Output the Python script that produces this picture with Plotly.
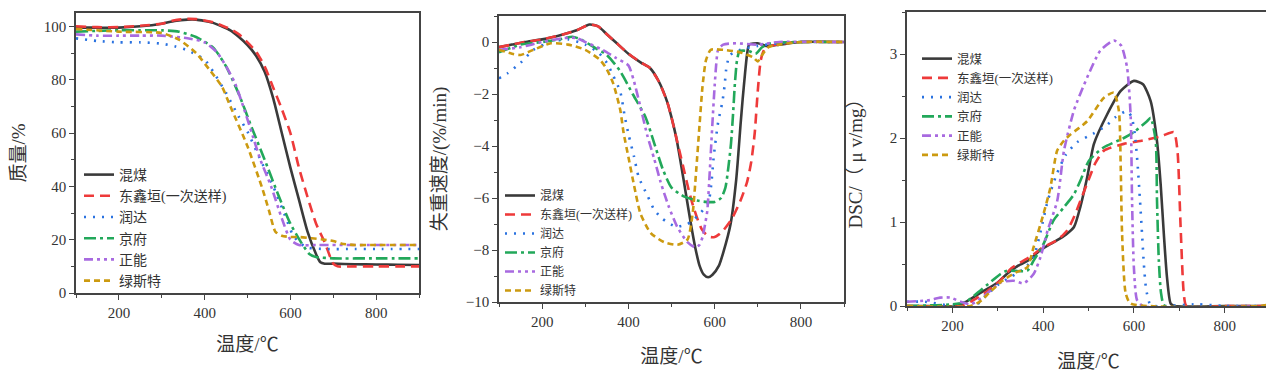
import plotly.graph_objects as go

# Browser body has an 8px margin: the figure is drawn offset by (8, 8)
OFF = 8
W, H = 1274 - OFF, 372 - OFF
NAMES = ["混煤", "东鑫垣(一次送样)", "润达", "京府", "正能", "绿斯特"]
COLORS = ["#3a3a3a", "#ee3a3a", "#2a72e0", "#22a85a", "#a86ae0", "#cc9a10"]
DASHES = ["solid", "10px,6px", "2px,7px", "12px,4px,3px,4px", "9px,4px,3px,4px,3px,4px", "6px,4px"]

# ---------------- TG (质量/%) ----------------
tg_black_T = [100,150,200,250,300,330,360,380,400,420,440,460,480,500,520,540,560,580,600,620,640,660,670,680,700,750,800,850,900]
tg_black_v = [99.5,99.5,99.5,100,101,102,102.5,102.5,102,101.3,100,98.5,96,93,89,83,73,60,47,35,23,14.5,11.5,11,11,10.8,10.7,10.6,10.5]
tg_red_T = [100,150,200,250,300,330,360,380,400,420,440,460,480,500,520,540,560,580,600,620,640,660,680,700,710,750,800,850,900]
tg_red_v = [100,99.7,99.7,100.2,101,102.3,102.8,102.7,102.2,101.5,100.3,99,97,94,90.5,85,77,69,60,47,36,26,19,11,10,10,10,10,10]
tg_blue_T = [100,150,200,250,300,330,360,400,420,450,480,500,530,560,590,605,620,640,680,750,800,900]
tg_blue_v = [95.5,94.5,94,94,93.5,92.5,91,87.5,83,75,66,60.5,50,40,28,22,19,17,16.5,16.5,16.5,16.5]
tg_green_T = [100,150,200,250,300,340,380,420,450,480,510,540,570,600,625,645,660,700,800,900]
tg_green_v = [98,98.3,98.5,98.5,98.5,98,96,92,85,74.5,62,50,37.5,26,19,14.5,13.5,13,13,13]
tg_purple_T = [100,150,200,250,300,360,400,430,450,470,490,510,530,555,580,600,620,660,800,900]
tg_purple_v = [97,96.5,96.5,96.5,96.5,95.5,94,90,85,79,70,60,50,40,28,20,18,18,18,18]
tg_gold_T = [100,200,300,340,380,410,440,460,500,535,550,565,580,600,620,650,680,700,720,750,800,900]
tg_gold_v = [99,98,97.5,95,90,84,77.5,70,55,39,31,23,21.5,21,21,20.5,20,19.5,18.5,18,18,18]

# ---------------- DTG (失重速度) ----------------
dtg_black_T = [100,130,160,200,250,280,310,330,350,370,400,430,450,470,490,500,510,520,535,545,555,565,575,585,595,610,620,637,650,655,660,665,670,675,680,700,720,750,800,900]
dtg_black_v = [-0.2,-0.1,0,0.1,0.3,0.45,0.67,0.6,0.3,0,-0.45,-0.8,-1.0,-1.5,-2.3,-2.9,-3.6,-4.5,-6.0,-7.0,-7.9,-8.6,-8.95,-9.05,-8.95,-8.6,-8.1,-7.0,-5.3,-4.3,-3.2,-2.2,-1.3,-0.5,-0.1,-0.05,-0.15,-0.1,0,0]
dtg_red_T = [100,130,160,200,250,280,310,330,350,370,400,430,450,470,490,500,510,520,530,540,550,560,570,580,590,600,610,620,640,660,675,685,693,700,707,715,730,760,800,900]
dtg_red_v = [-0.2,-0.1,0,0.1,0.3,0.45,0.67,0.6,0.3,0,-0.45,-0.8,-1.0,-1.5,-2.3,-2.9,-3.6,-4.3,-5.0,-5.7,-6.3,-6.8,-7.2,-7.4,-7.5,-7.5,-7.4,-7.25,-6.8,-6.1,-5.4,-4.6,-3.5,-1.9,-0.7,-0.3,-0.15,-0.05,0,0]
dtg_blue_T = [100,120,150,180,220,260,300,330,350,365,381,392,401,413,424,444,460,479,510,537,560,585,592,598,608,618,623,628,636,660,700,750,800,900]
dtg_blue_v = [-1.4,-1.2,-0.8,-0.3,0,0.1,-0.1,-0.4,-0.8,-1.3,-1.9,-2.9,-3.6,-4.4,-5.2,-5.9,-6.45,-6.8,-7.1,-7.0,-6.7,-6.2,-5.5,-4.4,-3.1,-2.3,-1.7,-0.9,-0.5,-0.3,-0.15,-0.05,0,0]
dtg_green_T = [100,150,200,240,270,290,320,350,380,410,440,460,480,500,530,560,580,600,615,625,632,638,643,647,652,658,680,695,710,730,800,900]
dtg_green_v = [-0.4,-0.1,0,0.1,0.2,0.1,-0.2,-0.5,-1.1,-2.0,-2.9,-3.9,-4.9,-5.6,-5.95,-6.1,-6.15,-6.15,-6.0,-5.6,-4.8,-3.9,-2.7,-1.6,-0.7,-0.35,-0.35,-0.45,-0.2,-0.05,0,0]
dtg_purple_T = [100,150,200,250,280,300,340,370,400,412,428,444,460,475,493,513,537,555,565,572,578,583,588,592,596,600,604,608,620,650,700,750,900]
dtg_purple_v = [-0.3,-0.2,0,0.15,0.15,0,-0.3,-0.6,-0.9,-1.45,-2.5,-3.6,-4.5,-5.4,-6.3,-7.1,-7.7,-7.9,-7.8,-7.5,-7.0,-6.5,-5.2,-4.0,-2.8,-1.7,-0.8,-0.3,-0.1,-0.05,-0.1,0,0]
dtg_gold_T = [100,130,150,180,220,260,300,335,350,365,381,389,401,413,428,452,483,514,537,549,557,565,572,580,591,620,660,690,700,710,725,750,800,900]
dtg_gold_v = [-0.3,-0.45,-0.5,-0.3,-0.05,-0.1,-0.3,-0.7,-1.05,-1.6,-2.6,-3.5,-4.5,-5.5,-6.6,-7.35,-7.7,-7.8,-7.6,-6.6,-5.0,-3.2,-1.7,-0.7,-0.3,-0.3,-0.4,-0.6,-0.75,-0.5,-0.2,-0.1,0,0]

# ---------------- DSC ----------------
dsc_black_T = [100,150,210,230,260,300,320,345,370,390,410,430,450,468,482,497,512,541,571,600,620,637,651,659,666,673,681,690,800,900]
dsc_black_v = [0,0,0,0.05,0.15,0.28,0.38,0.48,0.55,0.65,0.72,0.78,0.85,0.94,1.18,1.53,1.93,2.28,2.56,2.68,2.64,2.44,1.96,1.45,0.86,0.34,0.03,0,0,0]
dsc_red_T = [100,220,240,270,305,330,350,375,400,430,453,468,482,500,515,534,578,620,660,688,696,703,710,716,800,900]
dsc_red_v = [0,0,0.05,0.15,0.3,0.45,0.52,0.6,0.7,0.78,0.9,1.06,1.25,1.5,1.7,1.85,1.93,1.97,2.02,2.07,1.85,0.94,0.15,0,0,0]
dsc_blue_T = [100,140,200,250,270,300,330,360,380,395,410,430,450,475,510,540,560,585,595,602,608,613,618,622,627,635,645,740,800,900]
dsc_blue_v = [0.05,0.05,0,0,0.1,0.25,0.35,0.45,0.6,0.9,1.25,1.57,1.8,1.95,2.05,2.15,2.25,2.32,2.25,2.05,1.7,1.3,0.86,0.5,0.2,0.03,0,0.02,0,0]
dsc_green_T = [100,200,230,265,306,320,365,379,401,423,445,468,482,501,534,578,600,629,637,648,651,655,660,668,900]
dsc_green_v = [0,0.02,0.05,0.2,0.38,0.42,0.42,0.54,0.74,1.02,1.17,1.33,1.49,1.73,1.89,2.0,2.07,2.2,2.24,1.97,1.25,0.54,0.15,0,0]
dsc_purple_T = [100,150,173,196,218,240,270,306,335,357,379,394,410,431,446,468,497,526,556,572,585,593,596,600,607,620,900]
dsc_purple_v = [0.05,0.07,0.1,0.1,0.05,0.02,0.12,0.28,0.3,0.27,0.38,0.58,0.9,1.25,1.85,2.33,2.72,3.04,3.16,3.1,2.84,2.25,1.25,0.46,0.07,0,0]
dsc_gold_T = [100,240,260,280,310,340,365,379,401,416,431,446,460,497,534,556,567,571,574,582,593,880,900]
dsc_gold_v = [0,0,0.05,0.15,0.3,0.4,0.46,0.7,1.1,1.41,1.85,1.97,2.04,2.2,2.48,2.54,2.32,1.65,0.86,0.15,0.03,0,0.02]

panels = [
    [(tg_black_T, tg_black_v), (tg_red_T, tg_red_v), (tg_blue_T, tg_blue_v),
     (tg_green_T, tg_green_v), (tg_purple_T, tg_purple_v), (tg_gold_T, tg_gold_v)],
    [(dtg_black_T, dtg_black_v), (dtg_red_T, dtg_red_v), (dtg_blue_T, dtg_blue_v),
     (dtg_green_T, dtg_green_v), (dtg_purple_T, dtg_purple_v), (dtg_gold_T, dtg_gold_v)],
    [(dsc_black_T, dsc_black_v), (dsc_red_T, dsc_red_v), (dsc_blue_T, dsc_blue_v),
     (dsc_green_T, dsc_green_v), (dsc_purple_T, dsc_purple_v), (dsc_gold_T, dsc_gold_v)],
]

FONT = "Liberation Serif, Noto Sans CJK SC, serif"
fig = go.Figure()
axsuffix = ["", "2", "3"]
legends = ["legend", "legend2", "legend3"]
for p, series in enumerate(panels):
    for i, (T, v) in enumerate(series):
        fig.add_trace(go.Scatter(
            x=T, y=v, mode="lines", name=NAMES[i],
            line=dict(color=COLORS[i], width=2.6, dash=DASHES[i], shape="spline", smoothing=0.6),
            xaxis="x" + axsuffix[p], yaxis="y" + axsuffix[p], legend=legends[p],
        ))

def fx(a):
    return (a - OFF) / W

def fy(y):
    return 1 - (y - OFF) / H

axis_common = dict(showline=True, linecolor="#444", linewidth=1.5, mirror=True,
                   ticks="outside", ticklen=5, tickwidth=1.3, tickcolor="#444",
                   showgrid=False, zeroline=False, automargin=False,
                   tickfont=dict(family=FONT, size=15, color="#333"))
minor_common = dict(ticks="outside", ticklen=3, tickwidth=1.2, tickcolor="#444", showgrid=False)
title_font = dict(family=FONT, size=19, color="#333")

xdoms = [[fx(76), fx(419)], [fx(499), fx(844)], [fx(907), fx(1270)]]
ydoms = [[fy(293), fy(13)], [fy(302), fy(16)], [fy(306), fy(12)]]
yranges = [[0, 105], [-10, 1], [0, 3.5]]
ydticks = [20, 2, 1]
ytitles = ["质量/%", "失重速度/(%/min)", "DSC/（ μ v/mg）"]
ystandoff = [16, 14, 22]
xstandoff = [18, 21, 22]

layout = dict(width=W, height=H, margin=dict(l=0, r=0, t=0, b=0, autoexpand=False),
              plot_bgcolor="white", paper_bgcolor="white", showlegend=True)
for p in range(3):
    s = axsuffix[p]
    layout["xaxis" + s] = dict(axis_common, domain=xdoms[p], range=[100, 900], dtick=200, tick0=0,
                               minor=dict(minor_common, dtick=100, tick0=0),
                               anchor="y" + s, title=dict(text="温度/℃", font=title_font, standoff=xstandoff[p]))
    layout["yaxis" + s] = dict(axis_common, domain=ydoms[p], range=yranges[p], dtick=ydticks[p], tick0=0,
                               minor=dict(minor_common, dtick=ydticks[p] / 2, tick0=0),
                               anchor="x" + s, title=dict(text=ytitles[p], font=title_font, standoff=ystandoff[p]))

leg_specs = [(79, 159, 14), (500, 181, 12), (917, 44, 12.5)]
for p, (lx, ly, fs) in enumerate(leg_specs):
    layout[legends[p]] = dict(x=fx(lx), y=fy(ly), xanchor="left", yanchor="top",
                              bgcolor="rgba(0,0,0,0)", borderwidth=0, tracegroupgap=0,
                              itemwidth=30, font=dict(family=FONT, size=fs, color="#333"))
fig.update_layout(**layout)
fig.write_html("out.html")
